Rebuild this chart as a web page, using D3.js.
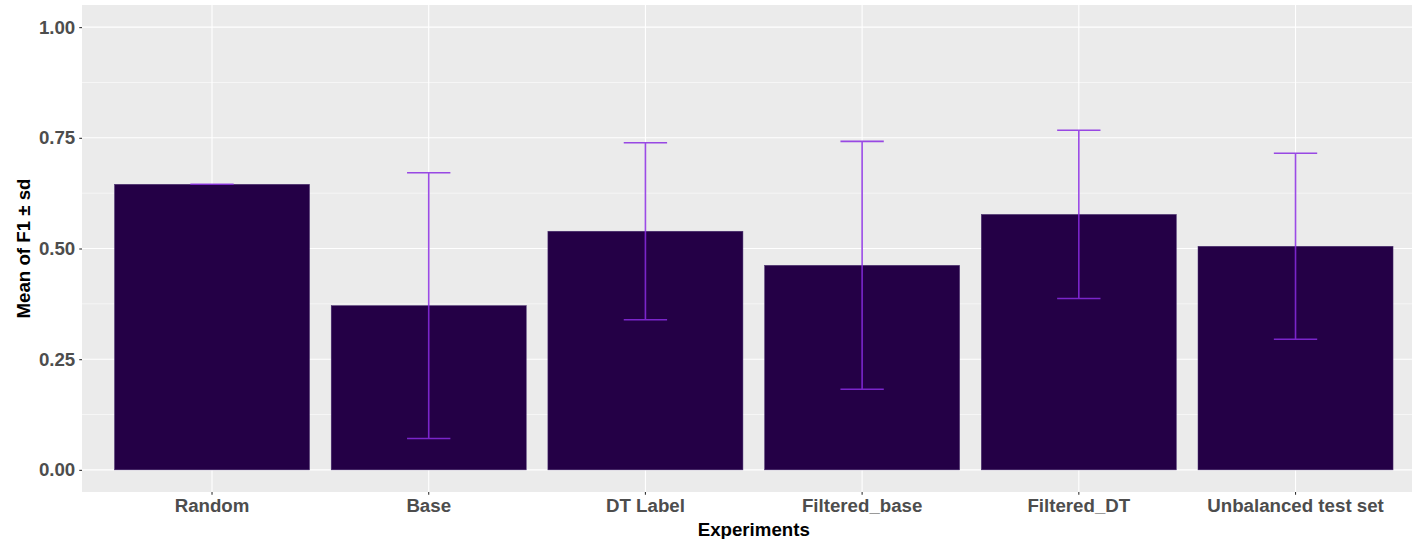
<!DOCTYPE html>
<html>
<head>
<meta charset="utf-8">
<script src="https://cdn.jsdelivr.net/npm/d3@7"></script>
<style>
  body { margin: 0; background: #fff; }
  svg { display: block; font-family: "Liberation Sans", Arial, sans-serif; }
</style>
</head>
<body>
<div id="chart"></div>
<script>
// data
let experiments = ["Random", "Base", "DT Label", "Filtered_base", "Filtered_DT", "Unbalanced test set"];
let meanF1 = [0.645, 0.371, 0.539, 0.462, 0.577, 0.505];
let sdF1 = [0.0, 0.300, 0.200, 0.280, 0.190, 0.210];
let yTicks = [0, 0.25, 0.5, 0.75, 1];
let yMinor = [0.125, 0.375, 0.625, 0.875];

let width = 1412;
let height = 539;
let panel = { left: 82, top: 5, bottom: 492 };
let step = 216.7;

let svg = d3.select("#chart")
  .append("svg")
  .attr("width", width)
  .attr("height", height);

// ggplot style discrete axis: 0.6 unit expansion on both sides
let x = d3.scaleBand()
  .domain(experiments)
  .range([panel.left, panel.left + step * 6.2])
  .paddingInner(0.1)
  .paddingOuter(0.15);

let y = d3.scaleLinear()
  .domain([-0.05, 1.05])
  .range([panel.bottom, panel.top]);

let panelRight = x.range()[1];

// panel background
svg.append("rect")
  .attr("x", panel.left)
  .attr("y", panel.top)
  .attr("width", panelRight - panel.left)
  .attr("height", panel.bottom - panel.top)
  .attr("fill", "#ebebeb");

// grid lines
svg.selectAll("line.minor")
  .data(yMinor)
  .enter()
  .append("line")
  .attr("class", "minor")
  .attr("x1", panel.left)
  .attr("x2", panelRight)
  .attr("y1", (d) => y(d))
  .attr("y2", (d) => y(d))
  .attr("stroke", "#fff")
  .attr("stroke-width", 0.55);

svg.selectAll("line.major")
  .data(yTicks)
  .enter()
  .append("line")
  .attr("class", "major")
  .attr("x1", panel.left)
  .attr("x2", panelRight)
  .attr("y1", (d) => y(d))
  .attr("y2", (d) => y(d))
  .attr("stroke", "#fff")
  .attr("stroke-width", 1.1);

svg.selectAll("line.vgrid")
  .data(experiments)
  .enter()
  .append("line")
  .attr("class", "vgrid")
  .attr("x1", (d) => x(d) + x.bandwidth() / 2)
  .attr("x2", (d) => x(d) + x.bandwidth() / 2)
  .attr("y1", panel.top)
  .attr("y2", panel.bottom)
  .attr("stroke", "#fff")
  .attr("stroke-width", 1.1);

// bars
svg.selectAll("rect.bar")
  .data(experiments)
  .enter()
  .append("rect")
  .attr("class", "bar")
  .attr("x", (d) => x(d))
  .attr("width", x.bandwidth())
  .attr("y", (d, i) => y(meanF1[i]))
  .attr("height", (d, i) => y(0) - y(meanF1[i]))
  .attr("fill", "#240046")
  .attr("stroke", "#4a3070")
  .attr("stroke-width", 0.5);

// error bars (mean +- sd)
let capHalf = (x.step() * 0.2) / 2;
let err = svg.append("g")
  .attr("stroke", "#8a2be2")
  .attr("stroke-opacity", 0.85)
  .attr("stroke-width", 1.6)
  .attr("fill", "none");

experiments.forEach(function (d, i) {
  let cx = x(d) + x.bandwidth() / 2;
  let lo = y(meanF1[i] - sdF1[i]);
  let hi = y(meanF1[i] + sdF1[i]);
  let path = "M" + (cx - capHalf) + "," + hi + "H" + (cx + capHalf) +
    "M" + cx + "," + hi + "V" + lo +
    "M" + (cx - capHalf) + "," + lo + "H" + (cx + capHalf);
  err.append("path").attr("d", path);
});

// y axis
let yAxis = svg.append("g")
  .attr("transform", "translate(" + panel.left + ",0)")
  .call(d3.axisLeft(y).tickValues(yTicks).tickFormat(d3.format(".2f")).tickSize(2.75).tickPadding(4));
yAxis.select(".domain").remove();
yAxis.selectAll(".tick line").attr("stroke", "#333").attr("stroke-width", 1.1);
yAxis.selectAll(".tick text")
  .attr("fill", "#4d4d4d")
  .style("font-size", "18.7px")
  .style("font-weight", "bold");

// x axis
let xAxis = svg.append("g")
  .attr("transform", "translate(0," + panel.bottom + ")")
  .call(d3.axisBottom(x).tickSize(2.75).tickPadding(4));
xAxis.select(".domain").remove();
xAxis.selectAll(".tick line").attr("stroke", "#333").attr("stroke-width", 1.1);
xAxis.selectAll(".tick text")
  .attr("fill", "#4d4d4d")
  .style("font-size", "18.7px")
  .style("font-weight", "bold");

// axis titles
svg.append("text")
  .attr("x", (panel.left + panelRight) / 2)
  .attr("y", 536)
  .attr("text-anchor", "middle")
  .style("font-size", "18.7px")
  .style("font-weight", "bold")
  .attr("fill", "#000")
  .text("Experiments");

svg.append("text")
  .attr("transform", "translate(30," + (panel.top + panel.bottom) / 2 + ") rotate(-90)")
  .attr("text-anchor", "middle")
  .style("font-size", "18.7px")
  .style("font-weight", "bold")
  .attr("fill", "#000")
  .text("Mean of F1 ± sd");
</script>
</body>
</html>
